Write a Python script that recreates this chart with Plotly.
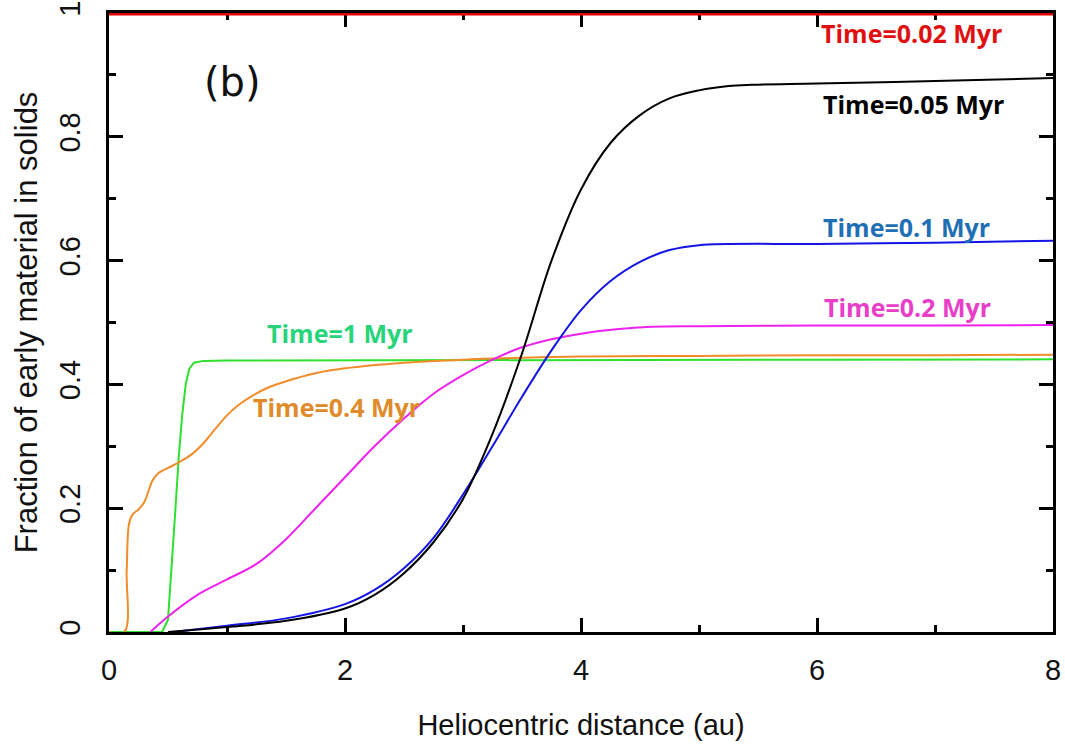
import plotly.graph_objects as go

# ---- data ----
x_red = [0.0, 8.0]
y_red = [1.0, 1.0]

x_black = [0.5, 1.0, 1.5, 2.0, 2.25, 2.5, 2.75, 3.0, 3.25, 3.5, 3.75, 4.0, 4.25, 4.5, 4.75, 5.0, 5.25, 5.45, 6.0, 7.0, 8.0]
y_black = [0.0, 0.008, 0.018, 0.038, 0.06, 0.095, 0.145, 0.215, 0.32, 0.45, 0.6, 0.715, 0.79, 0.835, 0.862, 0.875, 0.882, 0.884, 0.886, 0.89, 0.895]

x_blue = [0.55, 1.0, 1.5, 2.0, 2.25, 2.5, 2.75, 3.0, 3.25, 3.5, 3.75, 4.0, 4.25, 4.5, 4.75, 5.0, 6.0, 7.0, 8.0]
y_blue = [0.0, 0.01, 0.022, 0.045, 0.068, 0.103, 0.152, 0.222, 0.3, 0.38, 0.455, 0.52, 0.567, 0.598, 0.617, 0.625, 0.627, 0.629, 0.632]

x_mag = [0.35, 0.5, 0.75, 1.0, 1.25, 1.5, 1.75, 2.0, 2.25, 2.5, 2.75, 3.0, 3.25, 3.5, 3.75, 4.0, 4.3, 4.6, 5.0, 6.0, 7.0, 8.0]
y_mag = [0.0, 0.025, 0.06, 0.085, 0.11, 0.15, 0.2, 0.25, 0.3, 0.345, 0.385, 0.415, 0.44, 0.46, 0.473, 0.482, 0.489, 0.493, 0.494, 0.495, 0.495, 0.496]

x_orange = [0.0, 0.13, 0.15, 0.17, 0.2, 0.25, 0.3, 0.33, 0.37, 0.42, 0.5, 0.6, 0.7, 0.8, 0.9, 1.0, 1.1, 1.2, 1.35, 1.5, 1.75, 2.0, 2.5, 3.0, 3.5, 4.0, 5.0, 6.0, 7.0, 8.0]
y_orange = [0.0, 0.0, 0.1, 0.175, 0.19, 0.198, 0.21, 0.225, 0.245, 0.257, 0.265, 0.275, 0.287, 0.305, 0.328, 0.35, 0.367, 0.38, 0.395, 0.405, 0.418, 0.426, 0.435, 0.44, 0.443, 0.445, 0.446, 0.447, 0.447, 0.448]

x_green = [0.0, 0.45, 0.5, 0.53, 0.56, 0.59, 0.62, 0.65, 0.68, 0.72, 0.8, 1.0, 2.0, 4.0, 6.0, 8.0]
y_green = [0.0, 0.0, 0.02, 0.1, 0.19, 0.28, 0.35, 0.4, 0.425, 0.435, 0.438, 0.4385, 0.439, 0.4395, 0.44, 0.4405]

labels = ["Time=0.02 Myr", "Time=0.05 Myr", "Time=0.1 Myr", "Time=0.2 Myr", "Time=0.4 Myr", "Time=1 Myr"]
label_x = [6.8, 6.82, 6.76, 6.77, 1.93, 1.96]
label_y = [0.968, 0.853, 0.654, 0.525, 0.363, 0.483]
label_colors = ["#e01010", "#000000", "#1f6fb5", "#e83ec8", "#e08a2a", "#27d47a"]

x_ticks = [0, 2, 4, 6, 8]
y_ticks = [0, 0.2, 0.4, 0.6, 0.8, 1]
y_tick_text = ["0", "0.2", "0.4", "0.6", "0.8", "1"]

fig = go.Figure()

def add(x, y, color, shape="linear"):
    fig.add_trace(go.Scatter(x=x, y=y, mode="lines",
                             line=dict(color=color, width=2, shape=shape, smoothing=1.0),
                             showlegend=False, hoverinfo="skip"))

add(x_green, y_green, "#2fe02f")
add(x_orange, y_orange, "#f08c2a", "spline")
add(x_mag, y_mag, "#ee22ee", "spline")
add(x_blue, y_blue, "#1414e6", "spline")
add(x_black, y_black, "#000000", "spline")
fig.add_trace(go.Scatter(x=x_red, y=y_red, mode="lines", line=dict(color="#e00000", width=5),
                         showlegend=False, hoverinfo="skip", cliponaxis=False))

for t, xx, yy, c in zip(labels, label_x, label_y, label_colors):
    fig.add_annotation(x=xx, y=yy, text="<b>" + t + "</b>", showarrow=False,
                       font=dict(family="Open Sans", size=25, color=c),
                       xanchor="center", yanchor="middle")

fig.add_annotation(x=1.05, y=0.889, text="(b)", showarrow=False,
                   font=dict(family="DejaVu Sans", size=40, color="#111111"),
                   xanchor="center", yanchor="middle")

axis_common = dict(showline=True, linecolor="black", linewidth=3, mirror="ticks",
                   ticks="inside", ticklen=14, tickwidth=2.5, tickcolor="black",
                   showgrid=False, zeroline=False, layer="below traces", automargin=False,
                   tickfont=dict(family="Liberation Sans", size=29, color="#111111"))

fig.update_xaxes(range=[0, 8], tickvals=x_ticks, ticklabelstandoff=10,
                 minor=dict(ticks="inside", ticklen=7, tickwidth=2.5, tickcolor="black", dtick=1),
                 title=dict(text="Heliocentric distance (au)", standoff=30,
                            font=dict(family="Liberation Sans", size=29, color="#111111")),
                 **axis_common)
fig.update_yaxes(range=[0, 1], tickvals=y_ticks, ticktext=y_tick_text, tickangle=-90,
                 ticklabelstandoff=14,
                 minor=dict(ticks="inside", ticklen=7, tickwidth=2.5, tickcolor="black", dtick=0.1),
                 title=dict(text="Fraction of early material in solids", standoff=8,
                            font=dict(family="Liberation Sans", size=31, color="#111111")),
                 **axis_common)

fig.update_layout(width=1065, height=749, margin=dict(l=109, r=12, t=13, b=117),
                  plot_bgcolor="white", paper_bgcolor="white")

fig.write_html("out.html")
